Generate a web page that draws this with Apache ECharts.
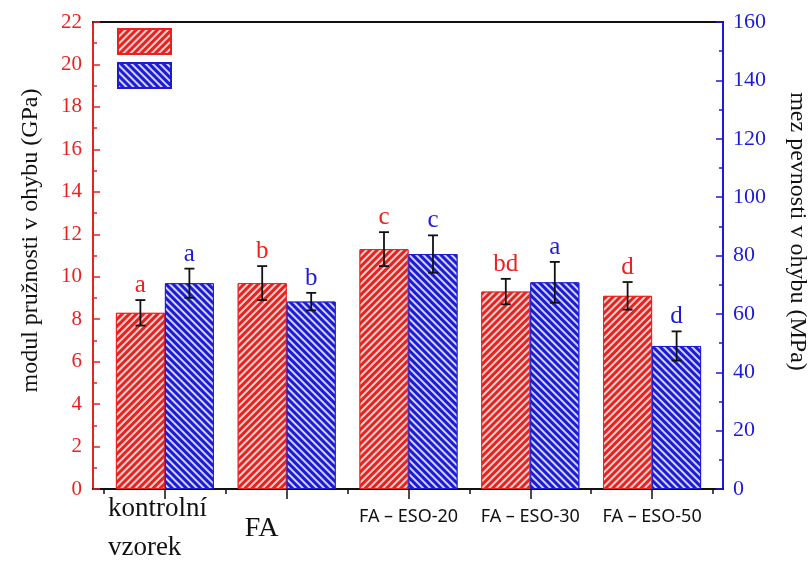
<!DOCTYPE html>
<html>
<head>
<meta charset="utf-8">
<script src="https://cdn.jsdelivr.net/npm/echarts@6/dist/echarts.min.js"></script>
<style>
  html, body { margin: 0; padding: 0; background: #fff; }
  #chart { width: 810px; height: 562px; }
</style>
</head>
<body>
<div id="chart"></div>
<script>
// kategorie a hodnoty
var categories = ['kontrolní vzorek', 'FA', 'FA – ESO-20', 'FA – ESO-30', 'FA – ESO-50'];
var modulValues = [8.3, 9.7, 11.3, 9.3, 9.1];      // GPa, levá osa
var modulErrors = [0.6, 0.8, 0.8, 0.6, 0.65];
var modulLetters = ['a', 'b', 'c', 'bd', 'd'];
var mezValues = [70.5, 64.2, 80.5, 70.8, 49.0];     // MPa, pravá osa
var mezErrors = [5, 3, 6.4, 7, 5];
var mezLetters = ['a', 'b', 'c', 'a', 'd'];
var leftTicks = { min: 0, max: 22, interval: 2 };
var rightTicks = { min: 0, max: 160, interval: 20 };

var RED = '#e8231f';
var BLUE = '#1c1cd6';
var BAR_W = 49;
var SERIF = '"Liberation Serif", "DejaVu Serif", serif';

var chart = echarts.init(document.getElementById('chart'));

function errRender(side, letters, color) {
  return function (params, api) {
    var xi = api.value(0), v = api.value(1), e = api.value(2);
    var hi = api.coord([xi, v + e]);
    var lo = api.coord([xi, v - e]);
    var x = hi[0] + side * BAR_W / 2;
    var cap = 5;
    var st = { stroke: '#111', lineWidth: 1.8 };
    return {
      type: 'group',
      children: [
        { type: 'line', shape: { x1: x, y1: hi[1], x2: x, y2: lo[1] }, style: st },
        { type: 'line', shape: { x1: x - cap, y1: hi[1], x2: x + cap, y2: hi[1] }, style: st },
        { type: 'line', shape: { x1: x - cap, y1: lo[1], x2: x + cap, y2: lo[1] }, style: st },
        { type: 'text', style: { text: letters[params.dataIndex], x: x, y: hi[1] - 2,
          align: 'center', verticalAlign: 'bottom', fill: color,
          font: '25px ' + SERIF } }
      ]
    };
  };
}

function hatch(rot) {
  return {
    symbol: 'rect',
    color: 'rgba(255,255,255,0.8)',
    dashArrayX: [1, 0],
    dashArrayY: [1.3, 2.8],
    rotation: rot
  };
}

var option = {
  animation: false,
  backgroundColor: '#fff',
  legend: {
    orient: 'vertical',
    left: 117, top: 28, padding: 0,
    itemWidth: 53, itemHeight: 25, itemGap: 7,
    icon: 'rect',
    formatter: function () { return ''; },
    data: ['modul pružnosti v ohybu', 'mez pevnosti v ohybu']
  },
  grid: [
    { left: 104, right: 97, top: 22, bottom: 73, outerBoundsMode: 'none' },
    { left: 93, right: 87, top: 22, bottom: 73, outerBoundsMode: 'none' }
  ],
  xAxis: [
    {
      type: 'category', gridIndex: 0, position: 'bottom',
      data: categories,
      axisLine: { show: false },
      axisTick: { show: true, alignWithLabel: true, inside: false, length: 10,
        lineStyle: { color: '#111', width: 1.5 } },
      axisLabel: {
        margin: 0, interval: 0, color: '#111',
        formatter: function (v, i) {
          if (i === 0) return '{k|kontrolní}\n{k|vzorek}';
          if (i === 1) return '{f|FA}';
          return '{s|' + v + '}';
        },
        rich: {
          k: { fontFamily: SERIF, fontSize: 27, width: 102, align: 'left', lineHeight: 39, color: '#111', padding: [0, 12, 0, 0] },
          f: { fontFamily: SERIF, fontSize: 28, color: '#111', padding: [26, 50, 0, 0] },
          s: { fontFamily: '"Noto Sans", sans-serif', fontSize: 18, color: '#111', padding: [19, 0, 0, 0] }
        }
      }
    },
    {
      type: 'category', gridIndex: 0, position: 'bottom',
      data: categories,
      axisLine: { show: false },
      axisLabel: { show: false },
      axisTick: { show: true, alignWithLabel: false, length: 5,
        lineStyle: { color: '#111', width: 1.5 } }
    },
    {
      type: 'value', gridIndex: 1, position: 'bottom', min: 0, max: 1,
      axisLine: { show: true, lineStyle: { color: '#111', width: 2 } },
      axisTick: { show: false }, axisLabel: { show: false }, splitLine: { show: false }
    },
    {
      type: 'value', gridIndex: 1, position: 'top', min: 0, max: 1,
      axisLine: { show: true, lineStyle: { color: '#111', width: 2 } },
      axisTick: { show: false }, axisLabel: { show: false }, splitLine: { show: false }
    }
  ],
  yAxis: [
    {
      type: 'value', gridIndex: 0, position: 'left', offset: 11,
      min: leftTicks.min, max: leftTicks.max, interval: leftTicks.interval,
      name: 'modul pružnosti v ohybu (GPa)',
      nameLocation: 'middle', nameGap: 50,
      nameTextStyle: { fontFamily: SERIF, fontSize: 24, color: '#111', padding: [0, 0, 0, 30] },
      axisLine: { show: true, lineStyle: { color: RED, width: 2 } },
      axisTick: { show: true, inside: true, length: 7, lineStyle: { color: RED, width: 1.5 } },
      minorTick: { show: true, splitNumber: 2, length: 4, lineStyle: { color: RED, width: 1.5 } },
      axisLabel: { color: RED, fontFamily: SERIF, fontSize: 21, margin: 11 },
      splitLine: { show: false }
    },
    {
      type: 'value', gridIndex: 0, position: 'right', offset: 10,
      min: rightTicks.min, max: rightTicks.max, interval: rightTicks.interval,
      name: 'mez pevnosti v ohybu (MPa)',
      nameLocation: 'middle', nameGap: 62, nameRotate: -90,
      nameTextStyle: { fontFamily: SERIF, fontSize: 24, color: '#111', padding: [0, 48, 0, 0] },
      axisLine: { show: true, lineStyle: { color: BLUE, width: 2 } },
      axisTick: { show: true, inside: true, length: 7, lineStyle: { color: BLUE, width: 1.5 } },
      minorTick: { show: true, splitNumber: 2, length: 4, lineStyle: { color: BLUE, width: 1.5 } },
      axisLabel: { color: BLUE, fontFamily: SERIF, fontSize: 22, margin: 10 },
      splitLine: { show: false }
    },
    { type: 'value', gridIndex: 1, show: false, min: 0, max: 1 }
  ],
  series: [
    {
      name: 'modul pružnosti v ohybu', type: 'bar',
      xAxisIndex: 0, yAxisIndex: 0,
      barWidth: BAR_W, barGap: '0%',
      itemStyle: { color: RED, borderColor: RED, borderWidth: 1, decal: hatch(-Math.PI / 4) },
      data: modulValues
    },
    {
      name: 'mez pevnosti v ohybu', type: 'bar',
      xAxisIndex: 0, yAxisIndex: 1,
      barWidth: BAR_W, barGap: '0%',
      itemStyle: { color: BLUE, borderColor: BLUE, borderWidth: 1, decal: hatch(Math.PI / 4) },
      data: mezValues
    },
    {
      type: 'custom', xAxisIndex: 0, yAxisIndex: 0, z: 5,
      renderItem: errRender(-1, modulLetters, RED),
      data: modulValues.map(function (v, i) { return [i, v, modulErrors[i]]; })
    },
    {
      type: 'custom', xAxisIndex: 0, yAxisIndex: 1, z: 5,
      renderItem: errRender(1, mezLetters, BLUE),
      data: mezValues.map(function (v, i) { return [i, v, mezErrors[i]]; })
    }
  ]
};

chart.setOption(option);
</script>
</body>
</html>
